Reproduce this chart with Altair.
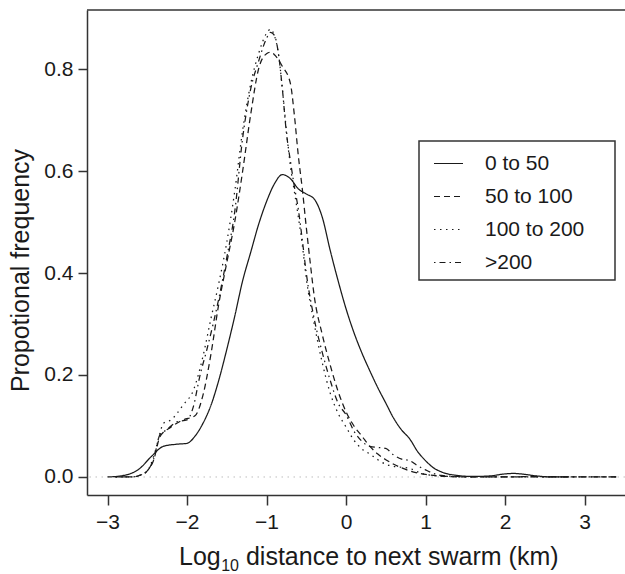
import altair as alt
import pandas as pd

series_names = ["0 to 50", "50 to 100", "100 to 200", ">200"]

x_0_50 = [-3.0, -2.8, -2.6, -2.45, -2.3, -2.15, -2.0, -1.9, -1.8, -1.7, -1.6, -1.5, -1.4, -1.3, -1.2,
          -1.1, -1.0, -0.9, -0.8, -0.7, -0.6, -0.5, -0.4, -0.3, -0.2, -0.1, 0.0, 0.1, 0.2, 0.3, 0.4,
          0.5, 0.6, 0.7, 0.8, 0.9, 1.0, 1.1, 1.2, 1.4, 1.6, 1.8, 2.0, 2.1, 2.2, 2.4, 2.6, 2.8]
y_0_50 = [0.0, 0.003, 0.016, 0.04, 0.06, 0.064, 0.066, 0.08, 0.105, 0.14, 0.19, 0.25, 0.315, 0.385, 0.44,
          0.495, 0.54, 0.575, 0.593, 0.585, 0.565, 0.555, 0.545, 0.51, 0.445, 0.385, 0.33, 0.283, 0.243, 0.208, 0.175,
          0.145, 0.115, 0.092, 0.075, 0.05, 0.032, 0.018, 0.01, 0.003, 0.001, 0.002, 0.006, 0.007, 0.006, 0.002, 0.0, 0.0]

x_50_100 = [-2.9, -2.7, -2.6, -2.5, -2.42, -2.34, -2.2, -2.05, -1.9, -1.8, -1.7, -1.6, -1.5, -1.4, -1.3,
            -1.2, -1.1, -1.0, -0.95, -0.9, -0.8, -0.7, -0.65, -0.6, -0.55, -0.5, -0.45, -0.4, -0.3, -0.2,
            -0.1, 0.0, 0.1, 0.2, 0.3, 0.4, 0.5, 0.6, 0.7, 0.8, 0.9, 1.0, 1.1, 1.3, 1.6, 2.0, 2.4, 2.8, 3.1, 3.4]
y_50_100 = [0.0, 0.0, 0.003, 0.012, 0.033, 0.079, 0.098, 0.112, 0.12, 0.16, 0.24, 0.34, 0.42, 0.50, 0.60,
            0.71, 0.80, 0.83, 0.833, 0.828, 0.805, 0.772, 0.71, 0.63, 0.565, 0.49, 0.42, 0.355, 0.28, 0.22,
            0.168, 0.128, 0.10, 0.08, 0.06, 0.045, 0.034, 0.025, 0.018, 0.012, 0.008, 0.005, 0.003, 0.001, 0.0, 0.0, 0.001, 0.0, 0.0, 0.0]

x_100_200 = [-2.9, -2.7, -2.6, -2.5, -2.42, -2.34, -2.3, -2.2, -2.05, -1.92, -1.8, -1.7, -1.6, -1.5, -1.4,
             -1.3, -1.2, -1.1, -1.0, -0.95, -0.9, -0.85, -0.8, -0.75, -0.7, -0.65, -0.6, -0.55, -0.5, -0.4,
             -0.3, -0.2, -0.1, 0.0, 0.1, 0.2, 0.3, 0.4, 0.5, 0.6, 0.7, 0.8, 0.9, 1.0, 1.1, 1.3, 1.6, 2.0,
             2.4, 2.8, 3.1, 3.4]
y_100_200 = [0.0, 0.0, 0.003, 0.012, 0.04, 0.086, 0.105, 0.112, 0.141, 0.17, 0.236, 0.31, 0.38, 0.46, 0.56,
             0.68, 0.77, 0.83, 0.87, 0.878, 0.865, 0.83, 0.76, 0.68, 0.61, 0.56, 0.51, 0.455, 0.39, 0.30,
             0.225, 0.165, 0.125, 0.098, 0.072, 0.055, 0.045, 0.034, 0.025, 0.021, 0.019, 0.017, 0.01, 0.005,
             0.003, 0.001, 0.0, 0.0, 0.0, 0.0, 0.0, 0.0]

x_200 = [-2.9, -2.7, -2.6, -2.5, -2.42, -2.34, -2.26, -2.13, -2.0, -1.92, -1.84, -1.75, -1.67, -1.6, -1.5,
         -1.4, -1.3, -1.2, -1.1, -1.0, -0.95, -0.9, -0.85, -0.8, -0.75, -0.7, -0.65, -0.6, -0.55, -0.5,
         -0.4, -0.3, -0.2, -0.1, 0.0, 0.1, 0.2, 0.3, 0.4, 0.5, 0.6, 0.7, 0.8, 0.9, 1.0, 1.1, 1.2, 1.4,
         1.8, 2.2, 2.6, 3.0, 3.4]
y_200 = [0.0, 0.0, 0.003, 0.012, 0.035, 0.083, 0.092, 0.108, 0.112, 0.138, 0.197, 0.25, 0.301, 0.35, 0.43,
         0.52, 0.665, 0.76, 0.815, 0.86, 0.872, 0.866, 0.83, 0.76, 0.675, 0.62, 0.57, 0.525, 0.465, 0.40,
         0.31, 0.245, 0.19, 0.145, 0.122, 0.09, 0.07, 0.06, 0.058, 0.056, 0.043, 0.035, 0.032, 0.022, 0.014,
         0.007, 0.003, 0.001, 0.0, 0.0, 0.0, 0.0, 0.0]

x_ticks = [-3, -2, -1, 0, 1, 2, 3]
y_ticks = [0.0, 0.2, 0.4, 0.6, 0.8]

x_title_parts = ["Log", "10", "distance to next swarm (km)"]
y_title = "Propotional frequency"

rows = []
for name, xs, ys in zip(series_names,
                        [x_0_50, x_50_100, x_100_200, x_200],
                        [y_0_50, y_50_100, y_100_200, y_200]):
    for i, (xv, yv) in enumerate(zip(xs, ys)):
        rows.append({"series": name, "x": xv, "y": yv, "idx": i})
df = pd.DataFrame(rows)

W, H = 538, 485
FONT = "Liberation Sans"
INK = "#1a1a1a"
FRAME = "#333333"
TITLE_SIZE = 25
SUB_SIZE = 16

x_scale = alt.Scale(domain=[-3.258, 3.509], nice=False, zero=False)
y_scale = alt.Scale(domain=[-0.0353, 0.9157], nice=False, zero=False)
dash_scale = alt.Scale(domain=series_names,
                       range=[[1, 0], [6, 4], [1.5, 4.5], [1.5, 4, 6, 4]])

# trailing no-break spaces (kept alive by a zero-width space) widen the legend box
PAD = "\u00a0" * 4 + "\u200b"

lines = alt.Chart(df).mark_line(color=INK, strokeWidth=1.25, interpolate="monotone").encode(
    x=alt.X("x:Q", scale=x_scale,
            axis=alt.Axis(values=x_ticks, format="d", title=None,
                          tickSize=10, labelPadding=6)),
    y=alt.Y("y:Q", scale=y_scale,
            axis=alt.Axis(values=y_ticks, format=".1f", title=y_title,
                          titleX=-59, titleY=260, titleBaseline="alphabetic", titleAlign="center",
                          tickSize=9, labelPadding=5)),
    strokeDash=alt.StrokeDash("series:N", scale=dash_scale, sort=series_names,
                              legend=alt.Legend(title=None, orient="none", legendX=332, legendY=131,
                                                labelExpr=f"datum.label + '{PAD}'")),
    order="idx:Q",
)

zero_line = alt.Chart(pd.DataFrame({"y": [0.0]})).mark_rule(
    color="#bdbdbd", strokeWidth=1, strokeDash=[1.5, 4.5]
).encode(y=alt.Y("y:Q"))

top_border = alt.Chart(pd.DataFrame({"y": [0.0]})).mark_rule(
    color=FRAME, strokeWidth=1.5
).encode(x=alt.value(0), x2=alt.value(W), y=alt.value(0))

# x-axis title with a true subscript, composed of three text pieces
t_base = 555
t_left = 92
w_log = 1.668 * TITLE_SIZE
w_sub = 1.112 * SUB_SIZE
w_space = 0.278 * TITLE_SIZE
x_title_log = alt.Chart(pd.DataFrame({"t": [x_title_parts[0]]})).mark_text(
    align="left", baseline="alphabetic", fontSize=TITLE_SIZE, font=FONT, color=INK
).encode(text="t:N", x=alt.value(t_left), y=alt.value(t_base))
x_title_sub = alt.Chart(pd.DataFrame({"t": [x_title_parts[1]]})).mark_text(
    align="left", baseline="alphabetic", fontSize=SUB_SIZE, font=FONT, color=INK
).encode(text="t:N", x=alt.value(t_left + w_log + 0.5), y=alt.value(t_base + 6))
x_title_rest = alt.Chart(pd.DataFrame({"t": [x_title_parts[2]]})).mark_text(
    align="left", baseline="alphabetic", fontSize=TITLE_SIZE, font=FONT, color=INK
).encode(text="t:N", x=alt.value(t_left + w_log + 0.5 + w_sub + w_space), y=alt.value(t_base))

chart = alt.layer(zero_line, lines, top_border, x_title_log, x_title_sub, x_title_rest).properties(
    width=W, height=H,
    autosize=alt.AutoSizeParams(type="none"),
    padding={"left": 87, "top": 10, "right": 0, "bottom": 79},
    background="white",
).configure(font=FONT).configure_view(stroke=None).configure_axis(
    grid=False, domainColor=FRAME, domainWidth=1.5, tickColor=FRAME, tickWidth=1.5,
    labelFont=FONT, labelFontSize=21, labelColor=INK,
    titleFont=FONT, titleFontSize=TITLE_SIZE, titleFontWeight="normal", titleColor=INK,
).configure_legend(
    strokeColor=FRAME, strokeWidth=1.5, padding=7, symbolOffset=7,
    symbolType="stroke", symbolSize=841, symbolStrokeColor=INK, symbolStrokeWidth=1.2,
    labelFont=FONT, labelFontSize=21, labelColor=INK, labelOffset=21, rowPadding=7,
)

chart.save("out.html", embed_options={"renderer": "svg", "actions": False})
